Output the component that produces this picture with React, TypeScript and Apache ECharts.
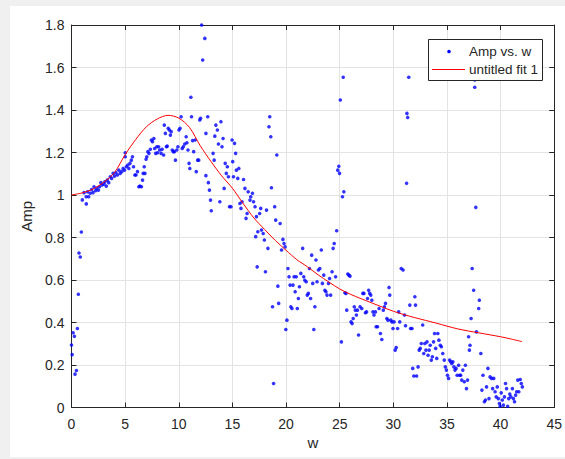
import React, { useEffect, useRef } from "react";
import * as echarts from "echarts";

// Scatter data: Amp vs. w
const ampW = [
  0.15, 0.27, 0, 0.06, 0.46, 0.33, 0.55, 0.64, 0.7, 0.82,
  0.92, 1.01, 1.38, 1.17, 1.37, 1.5, 1.6, 1.74, 1.87, 2.0,
  2.1, 2.24, 2.34, 2.51, 2.61, 2.74, 2.84, 3.01, 3.11, 3.24,
  3.34, 3.47, 3.61, 3.74, 3.88, 4.01, 4.14, 4.28, 4.41, 4.54,
  4.68, 4.81, 4.94, 5.01, 5.01, 5.11, 5.25, 5.35, 5.45, 5.58,
  5.68, 5.78, 5.91, 6.01, 6.15, 6.28, 6.38, 6.52, 6.62, 6.68,
  6.78, 6.85, 6.95, 7.02, 7.12, 7.22, 7.35, 7.45, 7.55, 7.68,
  7.75, 7.85, 7.95, 8.02, 8.12, 8.22, 8.35, 8.45, 8.59, 8.65,
  8.75, 8.85, 8.92, 9.02, 9.12, 9.22, 9.29, 9.39, 9.49, 9.59,
  9.69, 9.82, 9.92, 10.02, 10.12, 10.22, 10.32, 10.42, 10.56, 10.69,
  10.76, 10.86, 10.96, 11.03, 11.13, 11.19, 11.29, 11.39, 11.53, 11.63,
  11.76, 11.86, 11.96, 12.03, 12.13, 12.23, 12.43, 12.53, 12.53, 12.7,
  12.76, 12.86, 12.96, 13.03, 13.2, 13.3, 13.36, 13.46, 13.6, 13.7,
  13.83, 13.93, 14.03, 14.13, 14.23, 14.33, 14.43, 14.53, 14.63, 14.73,
  14.87, 14.97, 15.03, 15.1, 15.2, 15.3, 15.37, 15.5, 15.6, 15.7,
  15.8, 15.9, 16.04, 16.17, 16.27, 16.37, 16.47, 16.64, 16.71, 16.87,
  16.97, 17.11, 17.17, 17.24, 17.31, 17.37, 17.54, 17.64, 17.71, 17.87,
  17.98, 18.08, 18.18, 18.31, 18.41, 18.48, 18.58, 18.64, 18.74, 18.84,
  18.94, 19.04, 19.14, 19.24, 19.31, 19.45, 19.58, 19.71, 19.81, 19.91,
  19.98, 20.08, 20.18, 20.28, 20.38, 20.45, 20.55, 20.65, 20.75, 20.85,
  20.95, 21.05, 21.15, 21.25, 21.38, 21.55, 21.65, 21.75, 21.88, 21.98,
  22.08, 22.18, 22.29, 22.39, 22.49, 22.59, 22.69, 22.79, 22.89, 23.02,
  23.15, 23.29, 23.39, 23.52, 23.62, 23.72, 23.82, 23.96, 24.06, 24.16,
  24.29, 24.39, 24.49, 24.62, 24.72, 24.82, 24.92, 24.99, 25.06, 25.16,
  25.26, 25.33, 25.39, 25.49, 25.59, 25.66, 25.76, 25.86, 25.96, 26.06,
  26.16, 26.26, 26.36, 26.46, 26.56, 26.66, 26.76, 26.9, 27.06, 27.16,
  27.26, 27.4, 27.5, 27.6, 27.7, 27.8, 27.9, 28.0, 28.1, 28.2,
  28.33, 28.4, 28.53, 28.67, 28.8, 28.93, 29.07, 29.17, 29.27, 29.4,
  29.5, 29.6, 29.67, 29.77, 29.87, 29.97, 30.07, 30.17, 30.27, 30.4,
  30.5, 30.6, 30.74, 30.91, 31.04, 31.14, 31.24, 31.27, 31.34, 31.44,
  31.54, 31.61, 31.74, 31.81, 31.91, 32.01, 32.07, 32.17, 32.31, 32.41,
  32.51, 32.61, 32.74, 32.84, 32.94, 33.04, 33.14, 33.24, 33.34, 33.44,
  33.54, 33.64, 33.75, 33.85, 33.95, 34.05, 34.15, 34.25, 34.38, 34.48,
  34.61, 34.75, 34.85, 34.95, 35.05, 35.15, 35.25, 35.35, 35.45, 35.55,
  35.65, 35.75, 35.85, 35.95, 36.09, 36.18, 36.28, 36.38, 36.48, 36.62,
  36.72, 36.82, 36.92, 37.02, 37.09, 37.15, 37.25, 37.35, 37.49, 37.59,
  37.59, 37.69, 37.75, 37.96, 38.02, 38.16, 38.26, 38.36, 38.49, 38.59,
  38.69, 38.82, 38.92, 39.02, 39.16, 39.26, 39.36, 39.49, 39.59, 39.69,
  39.79, 39.89, 39.96, 40.06, 40.16, 40.26, 40.36, 40.46, 40.56, 40.66,
  40.76, 40.86, 40.96, 41.1, 41.2, 41.3, 41.4, 41.5, 41.6, 41.7,
  41.83, 41.93, 42.03,
];

const ampA = [
  0.352, 0.335, 0.294, 0.249, 0.174, 0.157, 0.372, 0.533, 0.727, 0.708,
  0.826, 0.977, 0.958, 1.011, 0.992, 1.015, 0.992, 1.008, 1.026, 1.011,
  1.039, 1.02, 1.031, 1.023, 1.039, 1.058, 1.047, 1.051, 1.062, 1.042,
  1.07, 1.058, 1.086, 1.078, 1.102, 1.089, 1.105, 1.094, 1.117, 1.102,
  1.11, 1.125, 1.117, 1.199, 1.18, 1.133, 1.141, 1.125, 1.149, 1.164,
  1.18, 1.133, 1.094, 1.094, 1.11, 1.039, 1.042, 1.039, 1.07, 1.102,
  1.133, 1.102, 1.168, 1.18, 1.204, 1.196, 1.215, 1.259, 1.251, 1.266,
  1.219, 1.196, 1.227, 1.199, 1.227, 1.212, 1.196, 1.215, 1.188, 1.329,
  1.29, 1.227, 1.23, 1.314, 1.306, 1.282, 1.298, 1.212, 1.204, 1.204,
  1.164, 1.212, 1.227, 1.306, 1.314, 1.368, 1.219, 1.227, 1.24, 1.274,
  1.246, 1.212, 1.149, 1.125, 1.46, 1.368, 1.256, 1.204, 1.259, 1.11,
  1.164, 1.164, 1.353, 1.361, 1.8, 1.635, 1.737, 1.29, 1.091, 1.368,
  1.058, 1.023, 0.976, 0.926, 1.196, 1.164, 1.277, 1.329, 1.306, 1.24,
  0.968, 1.345, 1.227, 1.266, 1.031, 1.149, 1.102, 1.133, 1.086, 0.945,
  0.945, 1.259, 1.157, 1.086, 1.243, 1.196, 1.117, 1.078, 1.125, 0.96,
  0.937, 0.968, 1.073, 1.031, 0.89, 0.913, 1.015, 0.976, 0.992, 1.008,
  0.968, 0.945, 0.804, 0.898, 0.662, 0.827, 0.913, 0.937, 0.835, 0.819,
  0.788, 0.639, 0.929, 0.749, 1.321, 1.368, 1.274, 1.034, 0.474, 0.113,
  0.945, 0.882, 1.188, 0.571, 0.49, 0.866, 0.741, 0.791, 0.772, 0.756,
  0.367, 0.411, 0.654, 0.615, 0.576, 0.474, 0.466, 0.576, 0.615, 0.545,
  0.615, 0.466, 0.513, 0.568, 0.631, 0.749, 0.615, 0.599, 0.592, 0.529,
  0.537, 0.654, 0.513, 0.717, 0.584, 0.367, 0.474, 0.694, 0.592, 0.647,
  0.654, 0.741, 0.584, 0.623, 0.552, 0.545, 0.529, 0.584, 0.607, 0.529,
  0.639, 0.749, 0.772, 0.615, 0.832, 1.117, 1.135, 1.102, 1.447, 0.309,
  0.992, 1.554, 1.015, 0.54, 0.537, 0.458, 0.628, 0.623, 0.618, 0.403,
  0.395, 0.419, 0.474, 0.458, 0.435, 0.458, 0.341, 0.474, 0.466, 0.537,
  0.537, 0.446, 0.45, 0.513, 0.552, 0.537, 0.529, 0.505, 0.45, 0.435,
  0.45, 0.38, 0.38, 0.466, 0.348, 0.32, 0.458, 0.474, 0.49, 0.419,
  0.411, 0.565, 0.529, 0.411, 0.403, 0.372, 0.403, 0.27, 0.282, 0.372,
  0.45, 0.403, 0.654, 0.647, 0.435, 0.385, 1.055, 1.384, 1.365, 1.554,
  0.482, 0.372, 0.372, 0.184, 0.148, 0.521, 0.482, 0.148, 0.191, 0.27,
  0.278, 0.301, 0.388, 0.254, 0.301, 0.27, 0.309, 0.246, 0.27, 0.293,
  0.223, 0.239, 0.309, 0.348, 0.278, 0.231, 0.348, 0.317, 0.293, 0.286,
  0.254, 0.223, 0.191, 0.176, 0.152, 0.137, 0.223, 0.215, 0.207, 0.215,
  0.191, 0.176, 0.184, 0.152, 0.199, 0.152, 0.152, 0.129, 0.176, 0.121,
  0.199, 0.089, 0.129, 0.333, 0.27, 0.293, 0.419, 0.654, 0.552, 1.507,
  1.541, 0.942, 0.356, 0.466, 0.505, 0.254, 0.082, 0.152, 0.027, 0.035,
  0.097, 0.184, 0.042, 0.144, 0.137, 0.089, 0.137, 0.074, 0.05, 0.097,
  0.042, 0.019, 0.006, 0.069, 0.035, 0.011, 0.05, 0.113, 0.089, 0.006,
  0.042, 0.063, 0.05, 0.089, 0.042, 0.027, 0.058, 0.074, 0.129, 0.074,
  0.132, 0.113, 0.097,
];

// Fitted curve "untitled fit 1"
const fitW = [
  0, 1, 2, 3, 4, 5, 6, 7, 8, 9, 10, 11, 12, 13, 14, 15, 16, 17, 18, 19, 20,
  21, 22, 23, 24, 25, 26, 27, 28, 29, 30, 31, 32, 33, 34, 35, 36, 37, 38, 39,
  40, 41, 42,
];
const fitA = [
  1.0, 1.01, 1.028, 1.06, 1.105, 1.19, 1.262, 1.322, 1.358, 1.375, 1.362,
  1.318, 1.232, 1.158, 1.09, 1.032, 0.96, 0.892, 0.838, 0.786, 0.74, 0.696,
  0.662, 0.624, 0.59, 0.558, 0.533, 0.512, 0.492, 0.472, 0.453, 0.437, 0.423,
  0.41, 0.397, 0.383, 0.37, 0.36, 0.351, 0.342, 0.333, 0.322, 0.31,
];

const seriesNames = ["Amp vs. w", "untitled fit 1"];
const xName = "w";
const yName = "Amp";

const FONT = "'Liberation Sans', Arial, Helvetica, sans-serif";
const AX = "#262626";
const GRID = "#e3e3e3";

export default function App() {
  const ref = useRef<HTMLDivElement>(null);

  useEffect(() => {
    if (!ref.current) return;
    const chart = echarts.init(ref.current, undefined, { renderer: "svg" });
    const n = Math.min(ampW.length, ampA.length);
    const scatterData: number[][] = [];
    for (let i = 0; i < n; i++) scatterData.push([ampW[i], ampA[i]]);
    const fitData = fitW.map((w, i) => [w, fitA[i]]);

    const boxAxisCommon = {
      axisLine: { show: true, onZero: false, lineStyle: { color: AX, width: 1 } },
      axisTick: { show: true, inside: true, length: 5, lineStyle: { color: AX, width: 1 } },
    };

    const fmt = (v: number) => String(parseFloat(Number(v).toFixed(1)));
    const LZ = 200;

    chart.setOption({
      animation: false,
      backgroundColor: "transparent",
      textStyle: { fontFamily: FONT },
      grid: { left: 71.5, right: 8.5, top: 25, bottom: 51.5, containLabel: false },
      xAxis: [
        {
          type: "value",
          min: 0,
          max: 45,
          interval: 5,
          position: "bottom",
          name: xName,
          nameLocation: "middle",
          nameGap: 25,
          nameTextStyle: { color: AX, fontSize: 15, fontFamily: FONT },
          ...boxAxisCommon,
          axisLabel: { color: AX, fontSize: 14, margin: 9, fontFamily: FONT },
          splitLine: { show: true, lineStyle: { color: GRID, width: 1 } },
        },
        {
          type: "value",
          min: 0,
          max: 45,
          interval: 5,
          position: "top",
          ...boxAxisCommon,
          axisLabel: { show: false },
          splitLine: { show: false },
        },
      ],
      yAxis: [
        {
          type: "value",
          min: 0,
          max: 1.8,
          interval: 0.2,
          position: "left",
          name: yName,
          nameLocation: "middle",
          nameGap: 34,
          nameRotate: 90,
          nameTextStyle: { color: AX, fontSize: 15, fontFamily: FONT },
          ...boxAxisCommon,
          axisLabel: { color: AX, fontSize: 14, margin: 7, fontFamily: FONT, formatter: fmt },
          splitLine: { show: true, lineStyle: { color: GRID, width: 1 } },
        },
        {
          type: "value",
          min: 0,
          max: 1.8,
          interval: 0.2,
          position: "right",
          ...boxAxisCommon,
          axisLabel: { show: false },
          splitLine: { show: false },
        },
      ],
      series: [
        {
          name: seriesNames[0],
          type: "scatter",
          xAxisIndex: 0,
          yAxisIndex: 0,
          data: scatterData,
          symbol: "circle",
          symbolSize: 3.6,
          itemStyle: { color: "#0000ff" },
          silent: true,
        },
        {
          name: seriesNames[1],
          type: "line",
          xAxisIndex: 0,
          yAxisIndex: 0,
          data: fitData,
          symbol: "none",
          showSymbol: false,
          smooth: 0.3,
          lineStyle: { color: "#ff0000", width: 1 },
          silent: true,
        },
      ],
      graphic: [
        {
          type: "rect",
          z: LZ,
          shape: { x: 428.5, y: 39.5, width: 114, height: 41 },
          style: { fill: "#ffffff", stroke: AX, lineWidth: 1 },
        },
        {
          type: "circle",
          z: LZ + 1,
          shape: { cx: 449, cy: 51.5, r: 1.8 },
          style: { fill: "#0000ff" },
        },
        {
          type: "line",
          z: LZ + 1,
          shape: { x1: 432, y1: 69.5, x2: 465, y2: 69.5 },
          style: { stroke: "#ff0000", lineWidth: 1 },
        },
        {
          type: "text",
          z: LZ + 1,
          x: 469,
          y: 51.5,
          style: {
            text: seriesNames[0],
            fill: AX,
            font: `13.5px ${FONT}`,
            verticalAlign: "middle",
            align: "left",
          },
        },
        {
          type: "text",
          z: LZ + 1,
          x: 469,
          y: 69.5,
          style: {
            text: seriesNames[1],
            fill: AX,
            font: `13.5px ${FONT}`,
            verticalAlign: "middle",
            align: "left",
          },
        },
      ],
    });
    return () => chart.dispose();
  }, []);

  return (
    <div
      style={{
        position: "absolute",
        left: 0,
        top: 0,
        width: 565,
        height: 459,
        background: "#f0f0f0",
        overflow: "hidden",
      }}
    >
      <div
        style={{
          position: "absolute",
          left: 10,
          top: 6,
          width: 555,
          height: 451,
          background: "#ffffff",
        }}
      />
      <div
        ref={ref}
        style={{ position: "absolute", left: 0, top: 0, width: 565, height: 459 }}
      />
    </div>
  );
}
